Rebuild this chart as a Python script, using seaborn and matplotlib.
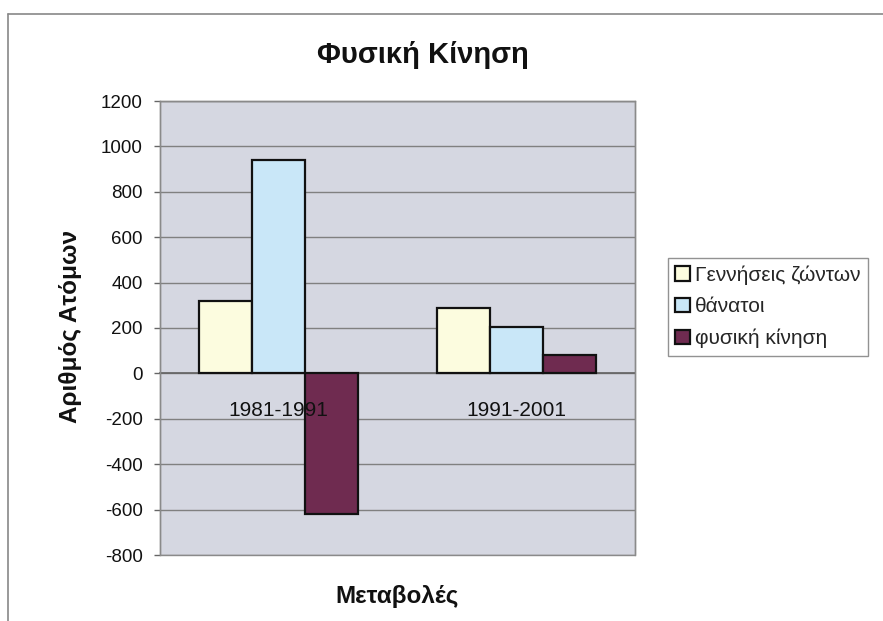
import matplotlib
matplotlib.use("Agg")
import matplotlib.pyplot as plt
import seaborn as sns
import pandas as pd
from matplotlib.lines import Line2D
from matplotlib.patches import Rectangle

categories = ["1981-1991", "1991-2001"]
series_names = ["Γεννήσεις ζώντων", "θάνατοι", "φυσική κίνηση"]
births = [320, 287]
deaths = [940, 206]
natural = [-620, 81]
yticks = [-800, -600, -400, -200, 0, 200, 400, 600, 800, 1000, 1200]
colors = ["#FCFCDF", "#C9E7F8", "#6F2B50"]

sns.set_theme(style="white")
plt.rcParams['font.family'] = ['Liberation Sans', 'DejaVu Sans']

rows = []
for name, vals in zip(series_names, [births, deaths, natural]):
    for c, v in zip(categories, vals):
        rows.append({"Μεταβολές": c, "value": v, "series": name})
df = pd.DataFrame(rows)

W, H = 883, 621
fig = plt.figure(figsize=(W / 100, H / 100), dpi=100)
fig.patch.set_facecolor("white")
ax = fig.add_axes([160 / W, 1 - 555 / H, (635 - 160) / W, (555 - 101) / H])
ax.set_facecolor("#D5D7E1")

sns.barplot(data=df, x="Μεταβολές", y="value", hue="series", order=categories,
            hue_order=series_names, palette=colors, width=0.67, gap=0,
            edgecolor="#111111", linewidth=1.6, ax=ax, saturation=1, legend=True,
            zorder=3)

ax.set_ylim(-800, 1200)
ax.set_xlim(-0.5, 1.5)
ax.set_yticks(yticks)
ax.set_yticklabels([str(t) for t in yticks], fontsize=13.5, color="#111111")
for y in yticks:
    ax.axhline(y, color="#808080", lw=1.0, zorder=1)

for s in ["top", "right", "left"]:
    ax.spines[s].set_color("#8a8a8a")
    ax.spines[s].set_linewidth(1.0)
ax.spines["bottom"].set_position(("data", 0))
ax.spines["bottom"].set_color("#666666")
ax.add_patch(Rectangle((0, 0), 1, 1, transform=ax.transAxes, fill=False,
                       edgecolor="#8a8a8a", lw=1.0, clip_on=False, zorder=4))

ax.set_xticks([0, 1])
ax.set_xticklabels(categories, fontsize=15, color="#111111")
ax.set_xticks([0.5], minor=True)
ax.tick_params(axis="x", which="major", length=0, pad=20)
ax.tick_params(axis="x", which="minor", length=5, width=1, color="#666666", direction="out")
ax.tick_params(axis="y", length=4.5, width=1, color="#666666", direction="out", left=True, pad=8)
ax.set_xlabel("")
ax.set_ylabel("")
ax.xaxis.set_zorder(6)

leg = ax.get_legend()
handles = leg.legend_handles
leg.remove()
fig.legend(handles, series_names, loc="upper left",
           bbox_to_anchor=(668 / W, 1 - 258 / H), frameon=True, fancybox=False,
           edgecolor="#777777", fontsize=15, handlelength=0.7, handleheight=0.7,
           handletextpad=0.25, labelspacing=0.6, borderpad=0.35, borderaxespad=0)

fig.text(423 / W, 1 - 55 / H, "Φυσική Κίνηση", ha="center", va="center",
         fontsize=21, fontweight="bold", color="#111111")
fig.text(70 / W, 1 - 326 / H, "Αριθμός Ατόμων", ha="center", va="center",
         rotation=90, fontsize=17.5, fontweight="bold", color="#111111")
fig.text(397 / W, 1 - 597 / H, "Μεταβολές", ha="center", va="center",
         fontsize=17.5, fontweight="bold", color="#111111")

# outer chart frame (top and left edges visible in the reference)
fig.add_artist(Line2D([8 / W, 1.0], [1 - 14 / H, 1 - 14 / H], color="#888888", lw=1.2))
fig.add_artist(Line2D([8 / W, 8 / W], [0, 1 - 14 / H], color="#888888", lw=1.2))

fig.savefig("out.png", dpi=100, facecolor="white")
